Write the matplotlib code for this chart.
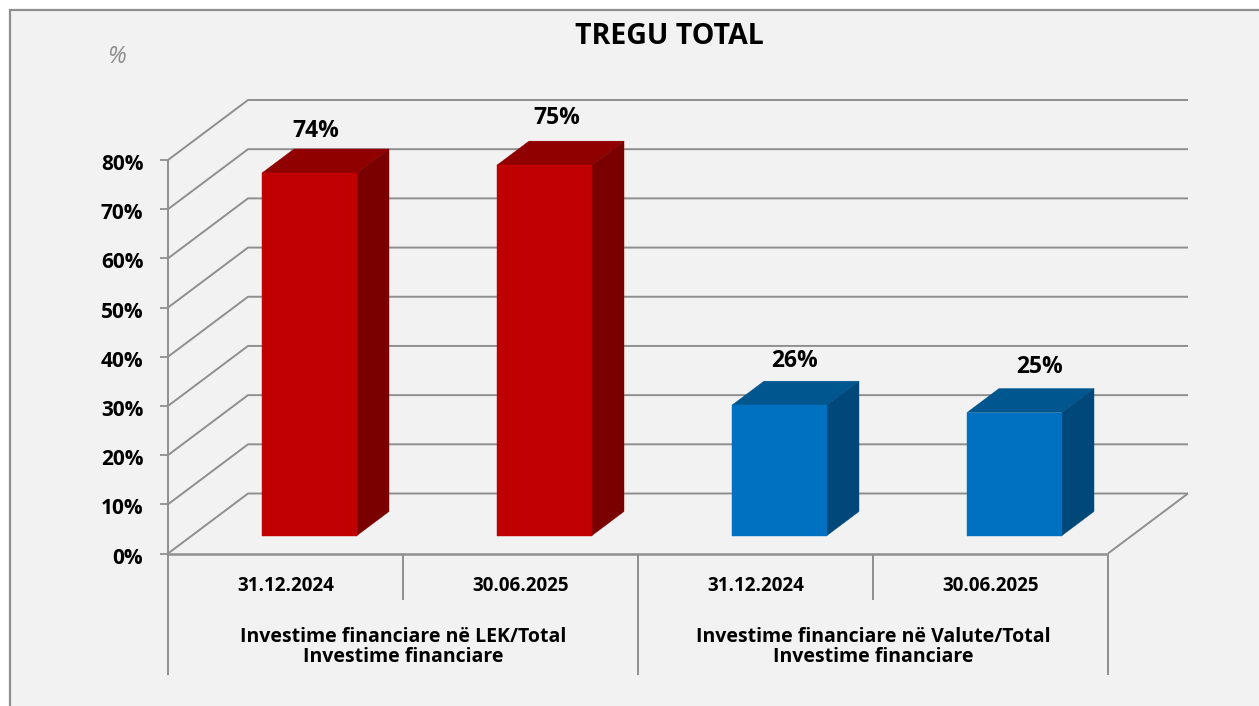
import matplotlib
matplotlib.use('Agg')
import matplotlib.pyplot as plt
from matplotlib.patches import Polygon, Rectangle
from matplotlib.transforms import ScaledTranslation

plt.rcParams['font.family'] = ['Open Sans', 'DejaVu Sans']

dates = ['31.12.2024', '30.06.2025', '31.12.2024', '30.06.2025']
groups = ['Investime financiare në LEK/Total\nInvestime financiare',
          'Investime financiare në Valute/Total\nInvestime financiare']
values = [73.7, 75.3, 26.5, 25.0]
labels = ['74%', '75%', '26%', '25%']
yticks = [0, 10, 20, 30, 40, 50, 60, 70, 80]

# colours of the bars: front, top, side
red = ['#c00000', '#900000', '#7a0000']
blue = ['#0070c0', '#00568f', '#00487a']
bar_colors = [red, red, blue, blue]
grid_c = '#8f8f8f'

W, H = 1259, 706
x0, x1 = 168, 1108   # front plane in pixels
y0, y80 = 553.5, 160
px_x = (x1-x0)/4.0
px_y = (y0-y80)/80.0
depth_x = 80/px_x    # full depth of the floor in data units
depth_y = 60/px_y

fig = plt.figure(figsize=(W/100, H/100), dpi=100, facecolor='white')
fig.add_artist(Rectangle((10/W, -0.01), 1.01-10/W, 1.01-10/H, transform=fig.transFigure,
                         facecolor='#f2f2f2', edgecolor=grid_c, linewidth=1.6, zorder=-1))

ax = fig.add_axes([x0/W, 1-y0/H, (x1-x0)/W, (y0-y80)/H])
ax.set_xlim(0, 4)
ax.set_ylim(0, 80)
ax.patch.set_visible(False)
for s in ax.spines.values():
    s.set_visible(False)


def proj(x, v, d):
    # d is the depth, 0 is the front plane and 1 the back wall
    return (x+d*depth_x, v+d*depth_y)


def line(pts, lw=1.4):
    ax.plot([p[0] for p in pts], [p[1] for p in pts], color=grid_c, lw=lw,
            clip_on=False, solid_capstyle='butt', zorder=1)


for t in yticks:
    line([proj(0, t, 0), proj(0, t, 1), proj(4, t, 1)])
line([proj(4, 0, 0), proj(4, 0, 1)])
line([proj(0, 0, 0), proj(4, 0, 0)], 1.8)

# axis below the chart
ylow1 = -(600-y0)/px_y
ylow2 = -(675-y0)/px_y
line([(0, 80), (0, ylow2)])
line([(4, 0), (4, ylow2)])
line([(2, 0), (2, ylow2)])
line([(1, 0), (1, ylow1)])
line([(3, 0), (3, ylow1)])

ax.set_yticks(yticks)
ax.set_yticklabels(['%d%%' % t for t in yticks], fontsize=15, fontweight='bold', color='black')
ax.tick_params(axis='y', length=5.8, width=1.3, color=grid_c, pad=12)
down = ScaledTranslation(0, -2/100, fig.dpi_scale_trans)
for lab in ax.get_yticklabels():
    lab.set_transform(lab.get_transform()+down)
ax.set_xticks([])

# bars, each one is a box
bar_w = 95/px_x
d1, d2 = 0.3, 0.7
for i, v in enumerate(values):
    a = i+0.5-bar_w/2
    b = i+0.5+bar_w/2
    front, top, side = bar_colors[i]
    ax.add_patch(Polygon([proj(a, v, d1), proj(b, v, d1), proj(b, v, d2), proj(a, v, d2)],
                         facecolor=top, edgecolor=top, lw=0.3, clip_on=False, zorder=3))
    ax.add_patch(Polygon([proj(b, 0, d1), proj(b, 0, d2), proj(b, v, d2), proj(b, v, d1)],
                         facecolor=side, edgecolor=side, lw=0.3, clip_on=False, zorder=3))
    ax.add_patch(Rectangle(proj(a, 0, d1), b-a, v, facecolor=front, edgecolor=front, lw=0.3,
                           clip_on=False, zorder=4))

# labels sit a bit differently on each bar
label_dx = [6.5, 12, 15, 25]
label_dy = [42, 47, 44, 46]
for i, v in enumerate(values):
    p = proj(i+0.5, v, d1)
    ax.text(p[0]+label_dx[i]/px_x, p[1]+label_dy[i]/px_y, labels[i], ha='center', va='center',
            fontsize=16.5, fontweight='bold', color='black', clip_on=False, zorder=5)

for i, d in enumerate(dates):
    ax.text(i+0.5, -(586-y0)/px_y, d, ha='center', va='center', fontsize=13.5,
            fontweight='bold', color='black')
for i, g in enumerate(groups):
    ax.text(2*i+1, -(646.5-y0)/px_y, g, ha='center', va='center', fontsize=14,
            fontweight='bold', color='black', linespacing=1.0)

fig.text(669/W, 1-37/H, 'TREGU TOTAL', ha='center', va='center', fontsize=20.5,
         fontweight='bold', color='black')
fig.text(116/W, 1-57/H, '%', ha='center', va='center', fontsize=17, style='italic',
         color='#8c8c8c')

fig.savefig('out.png', dpi=100, facecolor=fig.get_facecolor())
